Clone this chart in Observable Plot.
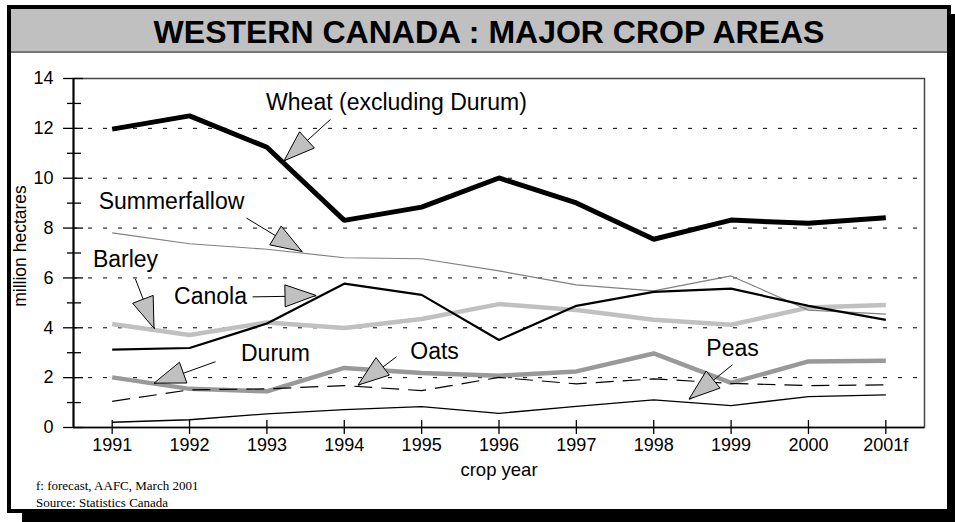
<!DOCTYPE html>
<html><head><meta charset="utf-8">
<script src="https://cdn.jsdelivr.net/npm/d3@7"></script>
<script src="https://cdn.jsdelivr.net/npm/@observablehq/plot@0.6"></script>
<style>
body{margin:0;background:#fff;font-family:"Liberation Sans",Arial,sans-serif;}
#page{position:relative;width:955px;height:522px;overflow:hidden;background:#fff;}
#frame{position:absolute;left:7px;top:5px;width:944px;height:508px;box-sizing:border-box;border:4px solid #000;box-shadow:15px 9px 0 #000;background:#fff;}
#title{position:absolute;left:11px;top:9px;width:936px;height:42px;background:#c0c0c0;border-bottom:2px solid #777;
 font-weight:bold;font-size:32px;line-height:46px;text-align:center;color:#000;padding-left:20px;box-sizing:content-box;width:916px;}
#chart{position:absolute;left:0;top:53px;}
.note{position:absolute;left:36px;font-family:"Liberation Serif","Times New Roman",serif;font-size:13px;line-height:15px;color:#000;}
</style></head>
<body>
<div id="page">
  <div id="frame"></div>
  <div id="title">WESTERN CANADA : MAJOR CROP AREAS</div>
  <div id="chart"></div>
  <div class="note" style="top:478px">f: forecast, AAFC, March 2001</div>
  <div class="note" style="top:495px">Source: Statistics Canada</div>
</div>
<script>
// ---- data ----
const years = [1991, 1992, 1993, 1994, 1995, 1996, 1997, 1998, 1999, 2000, 2001];
const yearLabels = ["1991", "1992", "1993", "1994", "1995", "1996", "1997", "1998", "1999", "2000", "2001f"];
const wheat        = [11.97, 12.50, 11.24, 8.31, 8.84, 10.01, 9.01, 7.55, 8.32, 8.19, 8.41];
const summerfallow = [7.81, 7.37, 7.15, 6.81, 6.77, 6.28, 5.72, 5.48, 6.08, 4.71, 4.55];
const canola       = [3.12, 3.19, 4.17, 5.77, 5.32, 3.51, 4.88, 5.44, 5.57, 4.88, 4.32];
const barley       = [4.15, 3.71, 4.21, 3.99, 4.35, 4.95, 4.71, 4.32, 4.12, 4.81, 4.91];
const durum        = [2.01, 1.55, 1.45, 2.39, 2.19, 2.08, 2.25, 2.97, 1.79, 2.65, 2.68];
const oats         = [1.05, 1.51, 1.55, 1.68, 1.48, 2.01, 1.75, 1.95, 1.77, 1.68, 1.71];
const peas         = [0.21, 0.31, 0.55, 0.72, 0.84, 0.57, 0.85, 1.11, 0.88, 1.24, 1.31];
const majorTicks = [0, 2, 4, 6, 8, 10, 12, 14];
const minorTicks = [1, 3, 5, 7, 9, 11, 13];
const gridTicks  = [2, 4, 6, 8, 10, 12];

// callout annotations (data coordinates): label, label position, line start, arrow tip
const annotations = [
  {text: "Wheat (excluding Durum)", lx: 1994.675, ly: 13.04, sx: 1993.822, sy: 12.36, tx: 1993.228, ty: 10.68},
  {text: "Summerfallow",            lx: 1991.767, ly: 9.08,  sx: 1992.736, sy: 8.40,  tx: 1993.46,  ty: 7.04},
  {text: "Barley",                  lx: 1991.172, ly: 6.72,  sx: 1991.30,  sy: 5.96,  tx: 1991.547, ty: 3.96},
  {text: "Canola",                  lx: 1992.271, ly: 5.26,  sx: 1992.814, sy: 5.24,  tx: 1993.641, ty: 5.28},
  {text: "Durum",                   lx: 1993.111, ly: 2.96,  sx: 1992.336, sy: 2.64,  tx: 1991.547, ty: 1.76},
  {text: "Oats",                    lx: 1995.167, ly: 3.04,  sx: 1994.675, sy: 2.84,  tx: 1994.184, ty: 1.68},
  {text: "Peas",                    lx: 1999.019, ly: 3.16,  sx: 1999.019, sy: 2.52,  tx: 1998.463, ty: 1.12}
];

const series = [
  {name: "Barley", values: barley, stroke: "#c0c0c0", width: 4.5, dash: null},
  {name: "Durum", values: durum, stroke: "#999999", width: 4.5, dash: null},
  {name: "Summerfallow", values: summerfallow, stroke: "#808080", width: 1.2, dash: null},
  {name: "Oats", values: oats, stroke: "#000", width: 1.2, dash: "18,9"},
  {name: "Peas", values: peas, stroke: "#000", width: 1.3, dash: null},
  {name: "Canola", values: canola, stroke: "#000", width: 2.2, dash: null},
  {name: "Wheat", values: wheat, stroke: "#000", width: 5, dash: null}
];

const rows = s => years.map((yr, i) => ({year: yr, value: s.values[i]}));

function arrowHeads(index, scales) {
  const g = d3.create("svg:g");
  for (const a of annotations) {
    const sx = scales.x(a.sx), sy = scales.y(a.sy), tx = scales.x(a.tx), ty = scales.y(a.ty);
    const dx = tx - sx, dy = ty - sy, len = Math.hypot(dx, dy);
    const ux = dx / len, uy = dy / len;
    const L = 31, W = 11;
    const bx = tx - ux * L, by = ty - uy * L;
    const pts = [[tx, ty], [bx - uy * W, by + ux * W], [bx + uy * W, by - ux * W]];
    g.append("path")
      .attr("d", "M" + pts.map(p => p.join(",")).join("L") + "Z")
      .attr("fill", "#c0c0c0").attr("stroke", "#000").attr("stroke-width", 1)
      .attr("stroke-linejoin", "miter");
  }
  return g.node();
}

const fontFamily = '"Liberation Sans", Arial, sans-serif';

const chart = Plot.plot({
  width: 955,
  height: 420,
  marginLeft: 73,
  marginRight: 31,
  marginTop: 25,
  marginBottom: 46,
  style: {fontFamily, fontSize: "18px", color: "#000", background: "transparent", overflow: "visible"},
  x: {domain: [1990.5, 2001.5], label: null},
  y: {domain: [0, 14], label: null},
  marks: [
    Plot.gridY(gridTicks, {stroke: "#000", strokeOpacity: 1, strokeWidth: 1, strokeDasharray: "4,11"}),
    Plot.frame({stroke: "#444", strokeWidth: 1.5}),
    ...series.map(s => Plot.line(rows(s), {
      x: "year", y: "value", stroke: s.stroke, strokeWidth: s.width,
      strokeDasharray: s.dash, strokeLinejoin: "miter", strokeLinecap: "butt"
    })),
    Plot.ruleX([1990.5], {stroke: "#000", strokeWidth: 2}),
    Plot.ruleY([0], {stroke: "#000", strokeWidth: 1.5}),
    Plot.axisY({ticks: majorTicks, tickSize: 20, dx: 10, tickFormat: () => "", label: null, strokeWidth: 1.3}),
    Plot.axisY({ticks: minorTicks, tickSize: 14, dx: 8, tickFormat: () => "", label: null, strokeWidth: 1.3}),
    Plot.axisY({ticks: majorTicks, tickSize: 0, tickPadding: 20, label: null, fontSize: 18}),
    Plot.axisX({ticks: years, tickSize: 14, dy: -7, tickFormat: () => "", label: null, strokeWidth: 1.3}),
    Plot.axisX({ticks: years, tickSize: 0, tickPadding: 11, label: null, fontSize: 18,
      tickFormat: d => yearLabels[years.indexOf(d)]}),
    Plot.text(["crop year"], {frameAnchor: "bottom", dy: 43, fontSize: 18.5, fill: "#000", lineAnchor: "middle"}),
    Plot.text(["million hectares"], {frameAnchor: "left", textAnchor: "middle", dx: -53, dy: -7,
      rotate: -90, fontSize: 17.5, fill: "#000"}),
    Plot.link(annotations, {x1: "sx", y1: "sy", x2: "tx", y2: "ty", stroke: "#000", strokeWidth: 1}),
    arrowHeads,
    Plot.text(annotations, {x: "lx", y: "ly", text: "text", fontSize: 23, fill: "#000"})
  ]
});
document.getElementById("chart").appendChild(chart);
</script>
</body></html>
